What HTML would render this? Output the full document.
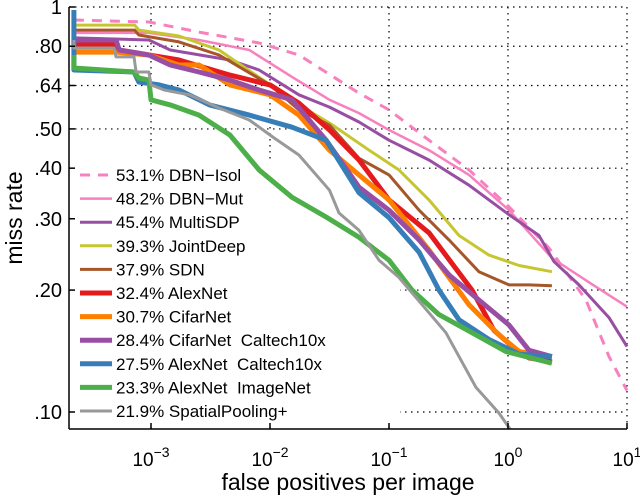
<!DOCTYPE html>
<html><head><meta charset="utf-8"><style>
html,body{margin:0;padding:0;background:#fff;}
svg{display:block;font-family:"Liberation Sans",sans-serif;}
svg text{white-space:pre;}
</style></head><body>
<svg id="chart" width="640" height="496" viewBox="0 0 640 496" xmlns="http://www.w3.org/2000/svg"></svg>
<script>
const xTicks = [0.001, 0.01, 0.1, 1, 10];
const xTickExp = ["-3", "-2", "-1", "0", "1"];
const yTicks = [1, 0.80, 0.64, 0.50, 0.40, 0.30, 0.20, 0.10];
const yTickLabels = ["1", ".80", ".64", ".50", ".40", ".30", ".20", ".10"];
const seriesNames = ["53.1% DBN\u2212Isol","48.2% DBN\u2212Mut","45.4% MultiSDP","39.3% JointDeep","37.9% SDN","32.4% AlexNet","30.7% CifarNet","28.4% CifarNet  Caltech10x","27.5% AlexNet  Caltech10x","23.3% AlexNet  ImageNet","21.9% SpatialPooling+"];
const dbnIsolX = [2.25e-4,9.6e-4,2.53e-3,8.1e-3,0.0175,0.056,0.1,0.217,0.47,1.02,2.21,4.52,7.06,10];
const dbnIsolY = [0.929,0.918,0.867,0.815,0.761,0.613,0.557,0.469,0.396,0.321,0.254,0.189,0.137,0.113];
const dbnMutX = [2.25e-4,9.6e-4,2.53e-3,6.7e-3,0.0153,0.0316,0.056,0.1,0.217,0.47,1.02,2.34,4.79,10];
const dbnMutY = [0.863,0.863,0.829,0.783,0.672,0.590,0.547,0.497,0.443,0.385,0.315,0.240,0.209,0.182];
const multiSdpX = [2.25e-4,9.6e-4,1.45e-3,4.6e-3,8.1e-3,0.0175,0.0316,0.056,0.1,0.217,0.47,1.02,1.82,2.44,3.95,7.06,10];
const multiSdpY = [0.839,0.829,0.783,0.740,0.699,0.607,0.566,0.520,0.469,0.419,0.363,0.307,0.273,0.235,0.206,0.171,0.145];
const jointDeepX = [2.25e-4,7.3e-4,7.9e-4,1.72e-3,3.73e-3,9.25e-3,0.0175,0.0316,0.068,0.121,0.217,0.387,0.692,1.24,2.34];
const jointDeepY = [0.902,0.902,0.877,0.848,0.783,0.653,0.573,0.517,0.443,0.396,0.334,0.273,0.244,0.230,0.222];
const sdnX = [2.25e-4,7.3e-4,7.9e-4,1.72e-3,3.73e-3,0.01,0.0175,0.0316,0.056,0.1,0.179,0.319,0.57,1.02,1.5,2.34];
const sdnY = [0.877,0.877,0.853,0.820,0.761,0.642,0.557,0.511,0.423,0.385,0.315,0.266,0.222,0.206,0.206,0.205];
const alexX = [2.25e-4,5.08e-4,5.4e-4,9.6e-4,1.72e-3,4.6e-3,0.01,0.0175,0.0316,0.056,0.1,0.217,0.498,0.763,1.12,1.5,2.34];
const alexY = [0.806,0.806,0.783,0.761,0.740,0.679,0.642,0.579,0.497,0.419,0.334,0.277,0.200,0.159,0.144,0.136,0.133];
const cifarX = [2.25e-4,5.08e-4,9.6e-4,1.72e-3,2.53e-3,4.6e-3,0.01,0.0175,0.0316,0.056,0.1,0.217,0.47,0.84,1.24,2.34];
const cifarY = [0.774,0.774,0.761,0.719,0.719,0.642,0.607,0.541,0.443,0.385,0.334,0.251,0.184,0.155,0.141,0.137];
const cifar10xX = [2.25e-4,5.08e-4,5.4e-4,9.6e-4,1.45e-3,2.53e-3,4.6e-3,8.1e-3,0.0153,0.0296,0.056,0.1,0.179,0.319,0.57,1.02,1.5,2.34];
const cifar10xY = [0.829,0.829,0.783,0.761,0.719,0.691,0.660,0.624,0.590,0.469,0.359,0.315,0.266,0.218,0.189,0.164,0.142,0.137];
const alex10xX = [2.25e-4,2.25e-4,7.2e-4,7.9e-4,1.17e-3,1.72e-3,3.1e-3,6.7e-3,0.0153,0.0296,0.056,0.1,0.179,0.263,0.387,0.692,1.24,2.34];
const alex10xY = [0.983,0.699,0.691,0.653,0.642,0.624,0.573,0.541,0.505,0.469,0.348,0.302,0.248,0.200,0.169,0.151,0.139,0.137];
const imagenetX = [2.25e-4,2.25e-4,7.2e-4,7.9e-4,9.6e-4,1.0e-3,1.45e-3,2.53e-3,4.6e-3,8.1e-3,0.0153,0.0296,0.056,0.1,0.156,0.263,0.498,0.962,2.34];
const imagenetY = [0.761,0.707,0.691,0.668,0.660,0.590,0.573,0.541,0.483,0.396,0.339,0.303,0.270,0.237,0.200,0.174,0.157,0.141,0.132];
const spatialX = [2.25e-4,2.25e-4,4.89e-4,5.08e-4,7.2e-4,7.5e-4,9.6e-4,1.0e-3,1.29e-3,2.1e-3,3.73e-3,6.7e-3,0.0108,0.0175,0.0316,0.038,0.056,0.0824,0.121,0.301,0.538,0.84,1.08];
const spatialY = [0.829,0.792,0.792,0.753,0.753,0.691,0.691,0.642,0.624,0.607,0.563,0.526,0.475,0.431,0.353,0.310,0.281,0.237,0.215,0.157,0.115,0.0994,0.0893];

const X0=69, X1=627, Y0=7, Y1=429;
const xMin=Math.pow(10,-3-82/119), xMax=10, yMax=1, yMin=Math.pow(10,-(Y1-Y0)/405);
function xs(v){return X0+(Math.log10(v)-Math.log10(xMin))/(Math.log10(xMax)-Math.log10(xMin))*(X1-X0);}
function ys(v){return Y0+(Math.log10(yMax)-Math.log10(v))/(Math.log10(yMax)-Math.log10(yMin))*(Y1-Y0);}
const NS="http://www.w3.org/2000/svg";
const svg=document.getElementById('chart');
function mk(tag,attrs,parent){const e=document.createElementNS(NS,tag);for(const k in attrs)e.setAttribute(k,attrs[k]);(parent||svg).appendChild(e);return e;}

const defs=mk('defs',{});
const cp=mk('clipPath',{id:'plotclip'},defs);
mk('rect',{x:X0,y:Y0-3,width:X1-X0+3,height:Y1-Y0+3},cp);

const grid=mk('g',{stroke:'#000','stroke-width':1.2,'stroke-dasharray':'1.5 4.5'});


xTicks.forEach(v=>{mk('line',{x1:xs(v),x2:xs(v),y1:Y0,y2:Y1},grid);});
yTicks.forEach(v=>{mk('line',{x1:X0,x2:X1,y1:ys(v),y2:ys(v)},grid);});

const legBg=mk('rect',{x:72,y:160,width:328,height:264,fill:'#fff'});



const seriesX=[dbnIsolX,dbnMutX,multiSdpX,jointDeepX,sdnX,alexX,cifarX,cifar10xX,alex10xX,imagenetX,spatialX];
const seriesY=[dbnIsolY,dbnMutY,multiSdpY,jointDeepY,sdnY,alexY,cifarY,cifar10xY,alex10xY,imagenetY,spatialY];
const colors=['#f781bf','#f781bf','#984ea3','#c6c631','#a65628','#e41a1c','#ff7f00','#984ea3','#377eb8','#4daf4a','#999999'];
const widths=[3,2.5,3,3,3,5,5,5,5,5,3];
const dashes=['10 8','','','','','','','','','',''];
const slugs=['dbn-isol','dbn-mut','multisdp','jointdeep','sdn','alexnet','cifarnet','cifarnet-caltech10x','alexnet-caltech10x','alexnet-imagenet','spatialpooling'];
const curves=mk('g',{'clip-path':'url(#plotclip)'});
for(let i=0;i<seriesX.length;i++){
  let d='';
  for(let j=0;j<seriesX[i].length;j++){d+=(j?'L':'M')+xs(seriesX[i][j]).toFixed(1)+','+ys(seriesY[i][j]).toFixed(1);}
  const p=mk('path',{d:d,fill:'none',stroke:colors[i],'stroke-width':widths[i],'stroke-linejoin':'round','stroke-dasharray':dashes[i]||'none'},curves);
  
  
}

for(let i=0;i<seriesNames.length;i++){
  const y=175+i*23.6;
  const g=mk('g',{});
  
  
  mk('line',{x1:80,x2:112,y1:y,y2:y,stroke:colors[i],'stroke-width':widths[i],'stroke-dasharray':dashes[i]||'none'},g);
  const t=mk('text',{x:116,y:y+6,'font-size':17,fill:'#000'},g);
  t.textContent=seriesNames[i];
}

const ax=mk('g',{stroke:'#000','stroke-width':1.5});


mk('line',{x1:X0,x2:X0,y1:Y0,y2:Y1},ax);
mk('line',{x1:X0,x2:X1,y1:Y1,y2:Y1},ax);
xTicks.forEach(v=>{mk('line',{x1:xs(v),x2:xs(v),y1:Y1,y2:Y1-6},ax);});
yTicks.forEach(v=>{mk('line',{x1:X0,x2:X0+6,y1:ys(v),y2:ys(v)},ax);});

xTicks.forEach((v,i)=>{
  const t=mk('text',{x:xs(v),y:466,'font-size':19,'text-anchor':'middle',fill:'#000'});
  
  
  t.textContent='10';
  const s=mk('tspan',{dy:-9,'font-size':14},t);
  s.textContent=xTickExp[i].replace('-','\u2212');
});
yTicks.forEach((v,i)=>{
  const t=mk('text',{x:62,y:ys(v)+7,'font-size':20,'text-anchor':'end',fill:'#000'});
  
  
  t.textContent=yTickLabels[i];
});
const xt=mk('text',{x:348,y:490,'font-size':23,'text-anchor':'middle',fill:'#000'});


xt.textContent='false positives per image';
const yt=mk('text',{x:0,y:0,'font-size':23,'text-anchor':'middle',fill:'#000',transform:'translate(22,218) rotate(-90)'});


yt.textContent='miss rate';
</script>
</body></html>
